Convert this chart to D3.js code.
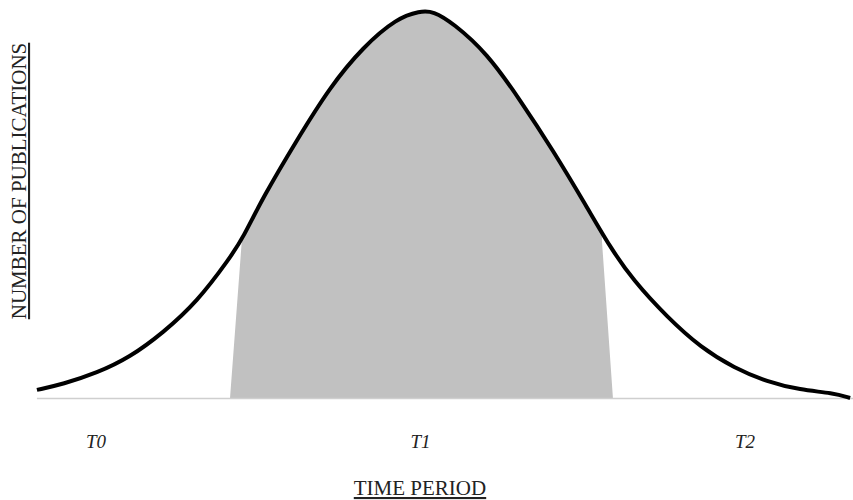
<!DOCTYPE html>
<html>
<head>
<meta charset="utf-8">
<script src="https://cdn.jsdelivr.net/npm/d3@7"></script>
<style>
  body { margin: 0; background: #fff; }
  text { font-family: "Liberation Serif", "Times New Roman", serif; fill: #222; }
</style>
</head>
<body>
<div id="chart"></div>
<script>
// time positions (T0 = 0, T1 = 1, T2 = 2) and relative number of publications (peak = 100)
const times = [-0.182, -0.102, 0.003, 0.105, 0.206, 0.311, 0.413, 0.453, 0.515, 0.619, 0.721, 0.823, 0.928, 0.998, 1.039,
  1.100, 1.205, 1.307, 1.408, 1.513, 1.584, 1.655, 1.760, 1.865, 1.967, 2.068, 2.170, 2.271, 2.324];
const counts = [2.1, 3.6, 6.5, 10.6, 16.9, 24.9, 36.4, 41.6, 52.2, 67.0, 80.8, 91.2, 98.7, 100.5, 100.5,
  97.4, 89.6, 77.4, 64.4, 49.6, 39.2, 30.6, 21.0, 13.0, 7.8, 4.2, 2.1, 1.3, 0];

// shaded band: bottom and top corners on each side
const shadeTimes = [0.413, 0.450, 1.559, 1.593];
const shadeTops = [0, 41.6, 41.0, 0];

const tickLabels = ['T0', 'T1', 'T2'];
const tickTimes = [0, 1, 2];

const width = 853;
const height = 500;

const data = times.map((t, i) => ({ t: t, v: counts[i] }));

const svg = d3.select('#chart')
  .append('svg')
  .attr('width', width)
  .attr('height', height);

// scales: T0..T2 map to label centres, 0..100 maps from baseline to peak
const x = d3.scaleLinear().domain([0, 2]).range([96, 745]);
const y = d3.scaleLinear().domain([0, 100]).range([398, 13]);

// clip for the grey band (sides slightly slanted, straight up above the curve)
const clipPts = [
  [shadeTimes[0], shadeTops[0]],
  [shadeTimes[1], shadeTops[1]],
  [shadeTimes[1], 120],
  [shadeTimes[2], 120],
  [shadeTimes[2], shadeTops[2]],
  [shadeTimes[3], shadeTops[3]]
];
svg.append('clipPath')
  .attr('id', 'band')
  .append('polygon')
  .attr('points', clipPts.map(p => [x(p[0]), y(p[1])].join(',')).join(' '));

// basis curve smooths out the reading noise
const curve = d3.curveBasis;

// grey area under the curve
svg.append('path')
  .datum(data)
  .attr('clip-path', 'url(#band)')
  .attr('fill', '#c1c1c1')
  .attr('d', d3.area().curve(curve).x(d => x(d.t)).y0(y(0)).y1(d => y(d.v)));

// baseline
svg.append('line')
  .attr('x1', x(times[0]))
  .attr('x2', width)
  .attr('y1', y(0) + 0.5)
  .attr('y2', y(0) + 0.5)
  .attr('stroke', '#cfcfcf')
  .attr('stroke-width', 1.5);

// the curve
svg.append('path')
  .datum(data)
  .attr('fill', 'none')
  .attr('stroke', '#000')
  .attr('stroke-width', 4)
  .attr('stroke-linejoin', 'round')
  .attr('d', d3.line().curve(curve).x(d => x(d.t)).y(d => y(d.v)));

// time labels
svg.append('g')
  .selectAll('text')
  .data(tickTimes)
  .join('text')
  .attr('x', d => x(d))
  .attr('y', 448)
  .attr('text-anchor', 'middle')
  .attr('font-style', 'italic')
  .attr('font-size', 19)
  .text((d, i) => tickLabels[i]);

// axis titles
svg.append('text')
  .attr('x', 420)
  .attr('y', 495)
  .attr('text-anchor', 'middle')
  .attr('font-size', 21)
  .style('text-decoration', 'underline')
  .text('TIME PERIOD');

svg.append('text')
  .attr('transform', 'translate(26,181) rotate(-90)')
  .attr('text-anchor', 'middle')
  .attr('font-size', 21)
  .style('text-decoration', 'underline')
  .text('NUMBER OF PUBLICATIONS');
</script>
</body>
</html>
